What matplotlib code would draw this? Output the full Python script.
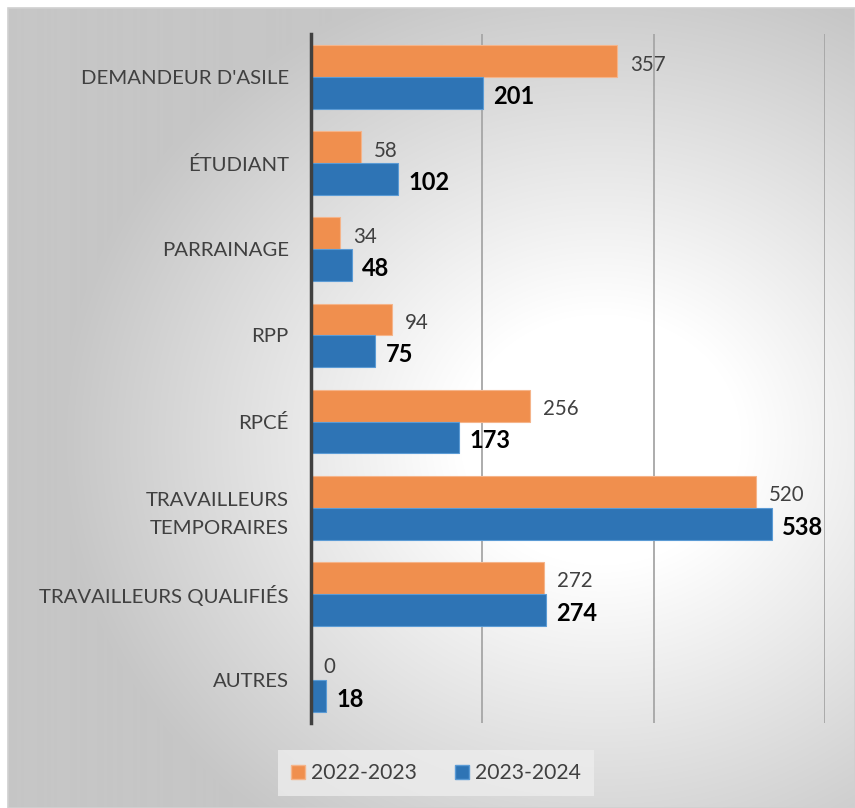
import numpy as np
import matplotlib
matplotlib.use("Agg")
import matplotlib.pyplot as plt
from matplotlib.patches import Patch

categories = ["DEMANDEUR D'ASILE", "ÉTUDIANT", "PARRAINAGE", "RPP", "RPCÉ",
              "TRAVAILLEURS\nTEMPORAIRES", "TRAVAILLEURS QUALIFIÉS", "AUTRES"]
s2022 = [357, 58, 34, 94, 256, 520, 272, 0]
s2023 = [201, 102, 48, 75, 173, 538, 274, 18]
series_names = ["2022-2023", "2023-2024"]

ORANGE = "#F08F4E"
BLUE = "#2E74B5"
TXT = "#404040"
FONT = ["Lato", "DejaVu Sans"]
plt.rcParams['font.family'] = FONT

W, H = 855, 808
fig = plt.figure(figsize=(W / 100, H / 100), dpi=100)
fig.patch.set_facecolor("white")

# background gradient panel
bx0, by0 = 8, 8
bg = fig.add_axes([bx0 / W, 0, 1 - bx0 / W, 1 - by0 / H], zorder=-10)
yy, xx = np.mgrid[by0:H, bx0:W]
cx, cy = 600, 440
d = np.sqrt(((xx - cx) / 470.0) ** 2 + ((yy - cy) / 420.0) ** 2)
t = np.clip((d - 0.3) / 0.85, 0, 1)
val = (255 - (255 - 198) * t) / 255.0
img = np.dstack([val, val, val])
bg.imshow(img, aspect="auto", extent=[0, 1, 0, 1], origin="upper")
bg.set_axis_off()
bg.add_patch(plt.Rectangle((0, 0), 1, 1, transform=bg.transAxes, fill=False,
                           edgecolor="#D0D0D0", lw=1.2, clip_on=False))

ax_l, ax_r = 311 / W, 825 / W
ax_t, ax_b = 1 - 34 / H, 1 - 723 / H
ax = fig.add_axes([ax_l, ax_b, ax_r - ax_l, ax_t - ax_b])
ax.patch.set_alpha(0)

n = len(categories)
y = np.arange(n)[::-1]
h = 0.37
ax.barh(y + h / 2, s2022, height=h, color=ORANGE, edgecolor="#F5B48A", lw=0.8, zorder=3)
ax.barh(y - h / 2, s2023, height=h, color=BLUE, edgecolor="#5B9BD5", lw=0.8, zorder=3)

for yi, v in zip(y, s2022):
    ax.text(v + 15, yi + h / 2 - 0.04, str(v), va="center", ha="left",
            fontsize=14.8, color=TXT)
for yi, v in zip(y, s2023):
    ax.text(v + 12, yi - h / 2 - 0.04, str(v), va="center", ha="left",
            fontsize=17, fontweight="bold", color="black")

ax.set_xlim(0, 600)
ax.set_ylim(-0.5, n - 0.5)
ax.set_xticks([0, 200, 400, 600])
ax.set_xticklabels([])
ax.tick_params(axis="x", length=0)
ax.grid(axis="x", color="#A6A6A6", lw=1.3, zorder=0)
ax.set_yticks(y)
ax.set_yticklabels(categories, fontsize=14.7, color=TXT, linespacing=1.75)
ax.tick_params(axis="y", length=0, pad=16)
for s in ["top", "right", "bottom"]:
    ax.spines[s].set_visible(False)
ax.spines["left"].set_color("#404040")
ax.spines["left"].set_linewidth(2.5)
ax.spines["left"].set_zorder(5)

handles = [Patch(facecolor=ORANGE, edgecolor="#F5B48A"), Patch(facecolor=BLUE, edgecolor="#5B9BD5")]
leg = fig.legend(handles, series_names, loc="center", bbox_to_anchor=(436 / W, 1 - 773 / H),
                 ncol=2, frameon=True, fontsize=15.2, handlelength=0.65, handleheight=0.65,
                 handletextpad=0.3, columnspacing=1.8, borderpad=0.6)
leg.get_frame().set_facecolor("#EDEDED")
leg.get_frame().set_edgecolor("none")
leg.get_frame().set_boxstyle("square", pad=0)
for tx in leg.get_texts():
    tx.set_color(TXT)

fig.savefig("out.png", dpi=100)
